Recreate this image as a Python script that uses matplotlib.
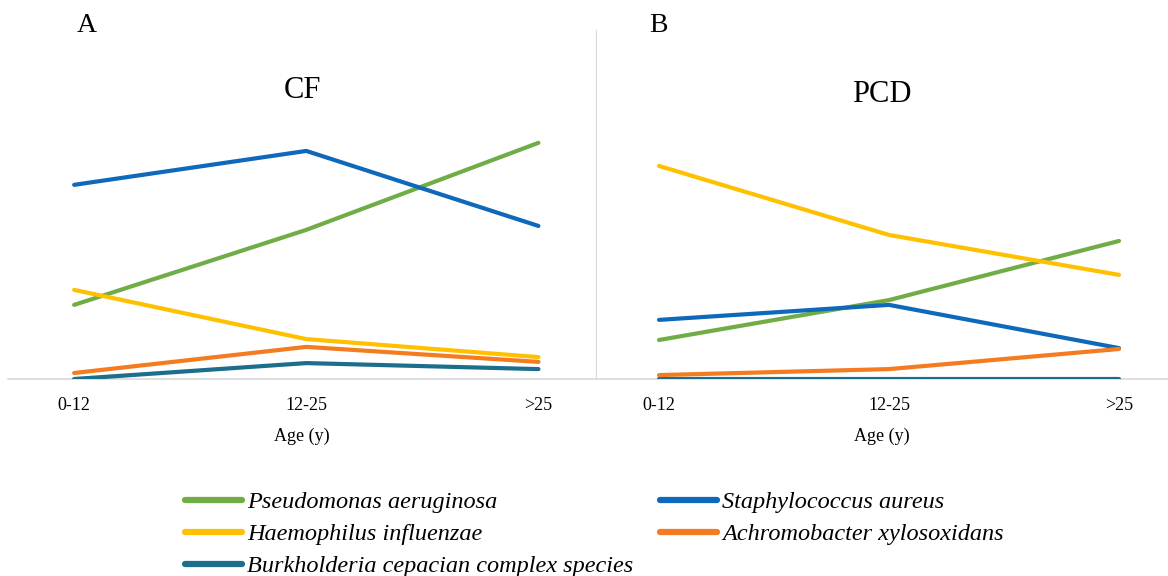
import numpy as np
import matplotlib.pyplot as plt
from matplotlib.lines import Line2D

ages = ['0-12', '12-25', '>25']
species = ['Pseudomonas aeruginosa', 'Haemophilus influenzae',
           'Burkholderia cepacian complex species',
           'Staphylococcus aureus', 'Achromobacter xylosoxidans']
colors = ['#70AD47', '#FFC000', '#1B6E8C', '#0F69BA', '#F47B20']

# prevalence (%), same order as species
cf_vals = [
    [24.7, 49.7, 78.7],
    [29.7, 13.3, 7.3],
    [0.0, 5.3, 3.3],
    [64.7, 76.0, 51.0],
    [2.0, 10.7, 5.7],
]
pcd_vals = [
    [13.0, 26.3, 46.0],
    [71.0, 48.0, 34.7],
    [0.0, 0.0, 0.0],
    [19.7, 24.7, 10.3],
    [1.3, 3.3, 10.0],
]

plt.rcParams['font.family'] = ['Liberation Serif', 'DejaVu Serif']

W, H = 1168, 576
fig = plt.figure(figsize=(W / 100, H / 100), dpi=100)

def px_axes(x0, x1, y0, y1):
    return fig.add_axes([x0 / W, 1 - y1 / H, (x1 - x0) / W, (y1 - y0) / H])

axA = px_axes(8, 596, 30, 379)
axB = px_axes(596, 1168, 30, 379)

x = np.arange(len(ages))
handles = []
for i, name in enumerate(species):
    axA.plot(x, cf_vals[i], color=colors[i], lw=3, solid_capstyle='round', zorder=3)
    axB.plot(x, pcd_vals[i], color=colors[i], lw=3, solid_capstyle='round', zorder=3)
    handles.append(Line2D([], [], color=colors[i], lw=4.5, solid_capstyle='round',
                          label=name))

for ax, lim, show_left in [(axA, (-0.285, 2.248), False), (axB, (-0.274, 2.213), True)]:
    ax.set_xlim(*lim)
    ax.set_ylim(0, 116.3)
    ax.set_yticks([])
    ax.set_xticks(x)
    ax.set_xticklabels(ages, fontsize=13)
    ax.tick_params(axis='x', length=0, pad=13)
    for s in ['top', 'right']:
        ax.spines[s].set_visible(False)
    ax.spines['left'].set_visible(show_left)
    ax.spines['left'].set_color('#D9D9D9')
    ax.spines['bottom'].set_color('#D9D9D9')
    ax.spines['bottom'].set_linewidth(1.2)
    ax.set_xlabel('Age (y)', fontsize=13, labelpad=10)
    ax.patch.set_alpha(0)

axA.set_title('CF', fontsize=22, pad=0, y=0.806)
axB.set_title('PCD', fontsize=22, pad=0, y=0.793)
fig.text(87 / W, 1 - 25 / H, 'A', fontsize=20, ha='center', va='center')
fig.text(658 / W, 1 - 25 / H, 'B', fontsize=20, ha='center', va='center')

leg_kw = dict(loc='upper left', frameon=False, prop={'style': 'italic', 'size': 17.5},
              handlelength=2.35, handletextpad=0.2, labelspacing=0.42,
              borderaxespad=0, borderpad=0)
fig.legend(handles=handles[:3], bbox_to_anchor=(185 / W, 1 - 491 / H), **leg_kw)
fig.legend(handles=handles[3:], bbox_to_anchor=(660 / W, 1 - 491 / H), **leg_kw)

fig.savefig('out.png', dpi=100)
